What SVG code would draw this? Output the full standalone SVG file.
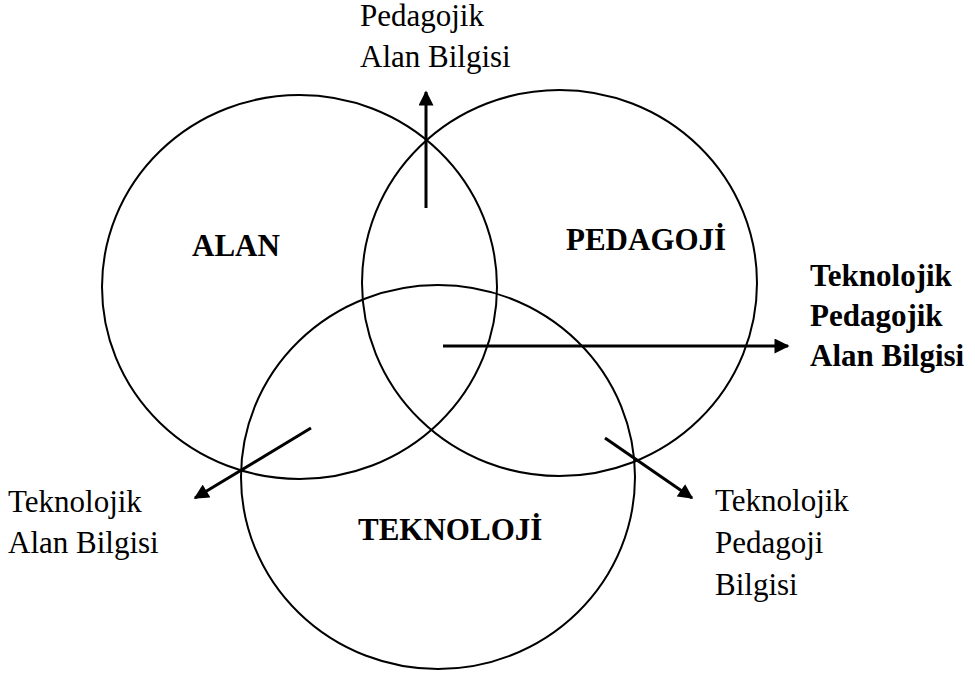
<svg xmlns="http://www.w3.org/2000/svg" width="975" height="677" viewBox="0 0 975 677">
  <style>
    .set { fill: none; stroke: #000; stroke-width: 2; }
    .arrow { stroke: #000; stroke-width: 3; fill: none; marker-end: url(#head); }
    .lbl { font-size: 31px; fill: #000; }
    .b { font-weight: bold; }
  </style>
  <defs>
    <marker id="head" viewBox="0 0 10 10" refX="9" refY="5" markerWidth="5.2" markerHeight="5" orient="auto" markerUnits="strokeWidth">
      <path d="M0,0 L10,5 L0,10 Z" fill="#000"/>
    </marker>
  </defs>
  <rect width="975" height="677" fill="#fff"/>

  <g font-family="'Liberation Serif', 'DejaVu Serif', serif">
    <g id="alan">
      <ellipse class="set" cx="299.5" cy="287" rx="197.5" ry="192"/>
      <text class="lbl b" x="192" y="256">ALAN</text>
    </g>
    <g id="pedagoji">
      <ellipse class="set" cx="559.5" cy="283" rx="197.5" ry="193"/>
      <text class="lbl b" x="566" y="250">PEDAGOJİ</text>
    </g>
    <g id="teknoloji">
      <ellipse class="set" cx="438" cy="477" rx="197" ry="192"/>
      <text class="lbl b" x="358" y="540">TEKNOLOJİ</text>
    </g>

    <g id="connectors">
      <line class="arrow" x1="426" y1="208" x2="426" y2="92"/>
      <line class="arrow" x1="443" y1="346" x2="788" y2="346"/>
      <line class="arrow" x1="311" y1="428" x2="195" y2="498"/>
      <line class="arrow" x1="605" y1="438" x2="692" y2="498"/>
    </g>

    <g id="pab">
      <text class="lbl" x="360" y="26">Pedagojik</text>
      <text class="lbl" x="360" y="67">Alan Bilgisi</text>
    </g>
    <g id="tpab">
      <text class="lbl b" x="810" y="286">Teknolojik</text>
      <text class="lbl b" x="810" y="326">Pedagojik</text>
      <text class="lbl b" x="810" y="366">Alan Bilgisi</text>
    </g>
    <g id="tab">
      <text class="lbl" x="8" y="512">Teknolojik</text>
      <text class="lbl" x="8" y="553">Alan Bilgisi</text>
    </g>
    <g id="tpb">
      <text class="lbl" x="715" y="511">Teknolojik</text>
      <text class="lbl" x="715" y="553">Pedagoji</text>
      <text class="lbl" x="715" y="595">Bilgisi</text>
    </g>
  </g>
</svg>
